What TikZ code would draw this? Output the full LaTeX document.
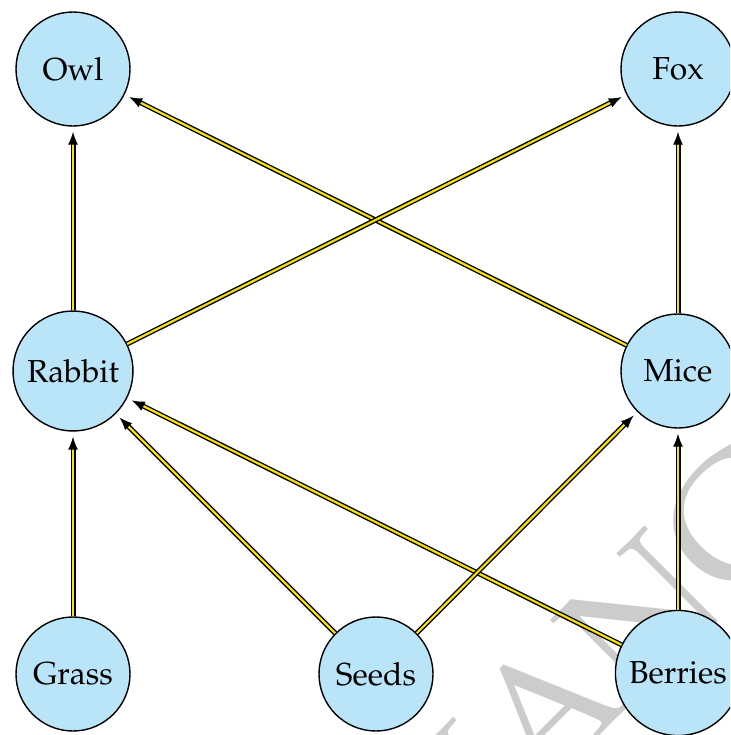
\documentclass[tikz,border=0pt]{standalone}
\usepackage[T1]{fontenc}
\usepackage{mathpazo}
\usetikzlibrary{arrows.meta}
\definecolor{nodeblue}{RGB}{186,228,248}
\definecolor{edgeyellow}{RGB}{250,225,0}
\begin{document}
\begin{tikzpicture}[x=0.5pt,y=-0.5pt,
  animal/.style={circle,draw=black,line width=0.7pt,fill=nodeblue,
    minimum size=57pt,inner sep=5pt,
    font=\fontsize{15.9}{19}\selectfont},
  link/.style={draw=black,line width=0.7pt,double=edgeyellow,double distance=1.1pt,
    -{Latex[length=6.5pt,width=5pt]},shorten >=2.5pt},
  watermark/.style={text=black!20,rotate=45,font=\fontsize{84}{84}\selectfont}]
\useasboundingbox (0,0) rectangle (730,735);
\clip (0,0) rectangle (730,735);
\node[watermark] (wm) at (584,671) {CHANGE};
\node[animal] (owl) at (73,69) {Owl};
\node[animal] (fox) at (678,69) {Fox};
\node[animal] (rabbit) at (73,371) {Rabbit};
\node[animal] (mice) at (678,371) {Mice};
\node[animal] (grass) at (73,674) {Grass};
\node[animal] (seeds) at (376,674) {Seeds};
\node[animal] (berries) at (678,673) {Berries};
\draw[link] (rabbit) -- (owl);
\draw[link] (mice) -- (owl);
\draw[link] (rabbit) -- (fox);
\draw[link] (mice) -- (fox);
\draw[link] (grass) -- (rabbit);
\draw[link] (seeds) -- (rabbit);
\draw[link] (berries) -- (rabbit);
\draw[link] (seeds) -- (mice);
\draw[link] (berries) -- (mice);
\end{tikzpicture}
\end{document}
